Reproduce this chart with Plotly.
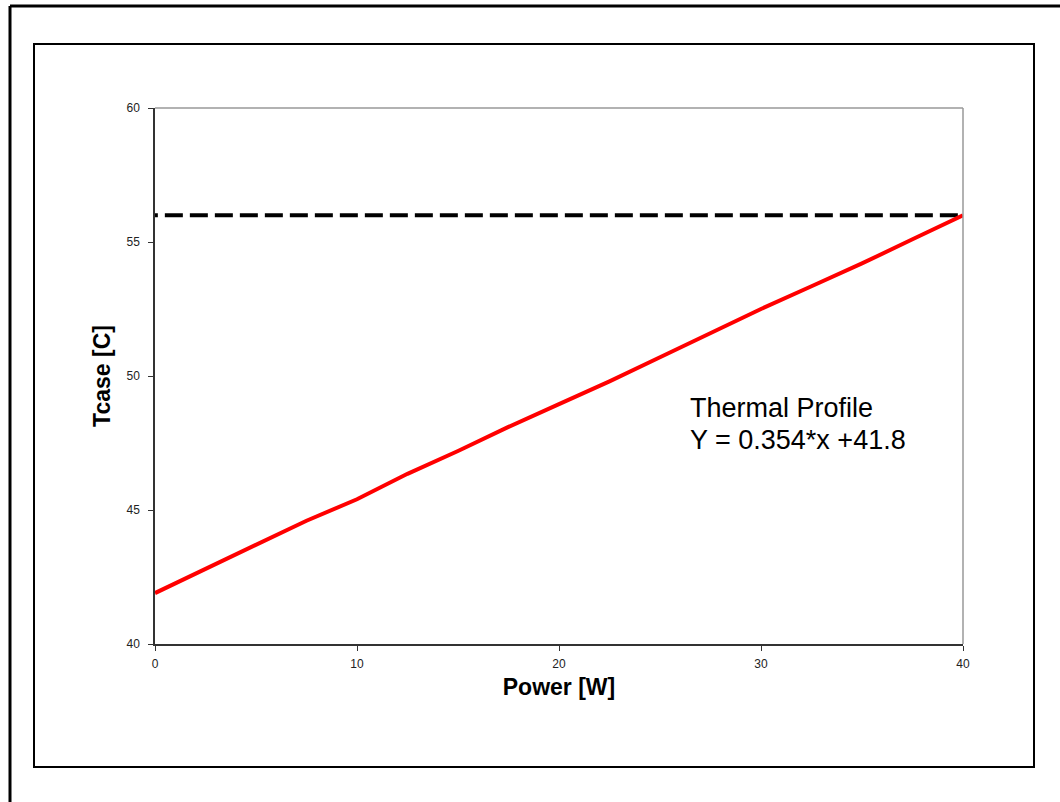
import plotly.graph_objects as go

power_w = [0, 2.5, 5, 7.5, 10, 12.5, 15, 17.5, 20, 22.5, 25, 27.5, 30, 32.5, 35, 37.5, 40]
tcase_c = [41.9, 42.8, 43.7, 44.6, 45.4, 46.35, 47.2, 48.1, 48.95, 49.8, 50.7, 51.6, 52.5, 53.35, 54.2, 55.1, 56.0]
limit_x = [-0.75, 40.45]
limit_t = [56.0, 56.0]
x_ticks = [0, 10, 20, 30, 40]
y_ticks = [40, 45, 50, 55, 60]
note_lines = ["Thermal Profile", "Y = 0.354*x +41.8"]

FONT = "Liberation Sans, Arial, sans-serif"

fig = go.Figure()
fig.add_trace(go.Scatter(x=limit_x, y=limit_t, mode="lines",
                         line=dict(color="black", width=4, dash="18px,7px"),
                         cliponaxis=False, showlegend=False, hoverinfo="skip"))
fig.add_trace(go.Scatter(x=power_w, y=tcase_c, mode="lines",
                         line=dict(color="#ff0000", width=4),
                         cliponaxis=False, showlegend=False))

L, R, T, B = 155, 97, 108, 158
W, H = 1060, 802
pw, ph = W - L - R, H - T - B

def px(x):
    return (x - L) / pw

def py(y):
    return (H - B - y) / ph

shapes = [
    dict(type="line", xref="paper", yref="paper", x0=0, x1=1, y0=1, y1=1,
         line=dict(color="#999999", width=1.5)),
    dict(type="line", xref="paper", yref="paper", x0=1, x1=1, y0=0, y1=1,
         line=dict(color="#999999", width=1.5)),
    dict(type="rect", xref="paper", yref="paper", x0=px(34), x1=px(1034), y0=py(767), y1=py(44),
         line=dict(color="black", width=2), layer="below"),
    dict(type="line", xref="paper", yref="paper", x0=px(10), x1=px(10), y0=py(802), y1=py(6),
         line=dict(color="black", width=3)),
    dict(type="line", xref="paper", yref="paper", x0=px(10), x1=px(1060), y0=py(6), y1=py(6),
         line=dict(color="black", width=3)),
]

annotations = [
    dict(xref="paper", yref="paper", x=px(688), y=py(y), xanchor="left", yanchor="middle",
         text=t, showarrow=False, align="left",
         font=dict(size=27, family=FONT, color="black"))
    for t, y in zip(note_lines, [408, 440])
]

fig.update_layout(
    width=W, height=H,
    margin=dict(l=L, r=R, t=T, b=B),
    paper_bgcolor="white", plot_bgcolor="white",
    font=dict(family=FONT, color="black"),
    shapes=shapes,
    xaxis=dict(range=[0, 40], tickvals=x_ticks, showgrid=False, zeroline=False,
               showline=True, linecolor="#333333", linewidth=1.5,
               ticks="outside", ticklen=5, tickcolor="#333333", ticklabelstandoff=3,
               tickfont=dict(size=12, family=FONT, color="#222222"),
               title=dict(text="<b>Power [W]</b>", font=dict(size=23, family=FONT, color="black"), standoff=9)),
    yaxis=dict(range=[40, 60], tickvals=y_ticks, showgrid=False, zeroline=False,
               showline=True, linecolor="#333333", linewidth=1.5,
               ticks="outside", ticklen=5, tickcolor="#333333", ticklabelstandoff=6,
               tickfont=dict(size=12, family=FONT, color="#222222"),
               title=dict(text="<b>Tcase [C]</b>", font=dict(size=23, family=FONT, color="black"), standoff=9)),
    annotations=annotations,
)

fig.write_html("out.html")
